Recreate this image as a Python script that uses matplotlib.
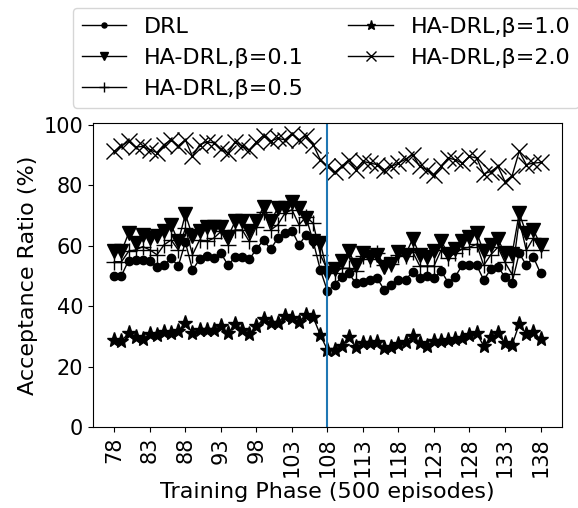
import numpy as np
import matplotlib
matplotlib.use("Agg")
import matplotlib.pyplot as plt

# training phases (x 500 episodes)
phases = list(range(78, 139))

drl = [50.1, 50.1, 55.1, 55.3, 55.3, 54.8, 52.9, 53.6, 55.8, 53.3,
       61.2, 52.0, 55.5, 56.6, 55.8, 57.5, 53.6, 56.2, 56.4, 55.5,
       58.9, 61.9, 58.8, 62.5, 64.3, 65.0, 60.3, 63.6, 61.4, 52.0,
       45.0, 47.0, 49.8, 50.9, 47.6, 48.1, 48.7, 49.2, 45.4, 47.0,
       48.7, 48.7, 51.4, 49.2, 50.0, 49.2, 51.7, 47.8, 49.8, 53.6,
       53.6, 53.6, 48.7, 52.2, 53.1, 49.6, 47.8, 57.5, 53.6, 56.2,
       50.9]

ha_01 = [58.1, 58.1, 64.1, 60.8, 63.6, 62.5, 63.2, 65.0, 66.9, 61.4,
         70.4, 63.2, 64.7, 66.3, 66.1, 66.1, 63.0, 68.0, 68.0, 65.0,
         68.0, 72.9, 68.0, 72.4, 72.4, 74.6, 72.4, 69.3, 61.4, 61.0,
         51.0, 52.2, 54.9, 58.1, 53.6, 57.5, 56.1, 56.8, 52.8, 53.9,
         57.9, 57.0, 62.3, 57.0, 56.3, 58.1, 61.6, 57.3, 58.8, 61.4,
         63.0, 64.3, 58.1, 60.3, 62.1, 57.5, 57.3, 70.7, 64.1, 65.2,
         60.3]

ha_05 = [54.7, 54.7, 58.1, 58.6, 59.7, 58.6, 57.0, 60.3, 61.9, 58.6,
         65.8, 57.0, 61.9, 61.4, 62.5, 64.7, 60.3, 65.2, 65.2, 61.4,
         66.3, 71.3, 65.2, 66.9, 70.7, 71.9, 66.9, 69.6, 67.4, 57.0,
         52.0, 51.0, 52.5, 52.5, 51.8, 56.5, 55.5, 57.5, 53.5, 54.0,
         57.0, 56.5, 58.0, 53.3, 53.3, 53.3, 58.5, 56.0, 57.5, 59.0,
         59.5, 60.5, 53.5, 57.0, 59.5, 54.5, 50.5, 68.5, 58.5, 62.5,
         58.5]

ha_10 = [28.8, 28.4, 31.2, 29.9, 29.0, 30.8, 30.5, 31.6, 31.0, 31.9,
         34.3, 31.2, 32.3, 32.1, 32.1, 33.4, 31.0, 34.1, 32.3, 30.8,
         33.4, 35.7, 34.5, 34.5, 36.8, 36.0, 34.9, 37.1, 36.3, 30.5,
         25.5, 25.5, 26.8, 29.9, 26.4, 27.7, 27.9, 28.1, 26.1, 26.4,
         27.5, 28.3, 30.1, 27.7, 26.8, 28.6, 28.6, 28.8, 29.0, 29.4,
         30.5, 31.2, 26.8, 29.7, 31.0, 27.7, 27.2, 34.1, 30.8, 31.6,
         29.0]

ha_20 = [91.2, 93.0, 94.5, 92.6, 92.8, 91.7, 90.8, 93.4, 95.0, 93.0,
         95.0, 89.5, 93.4, 94.3, 94.0, 92.0, 90.6, 94.3, 93.0, 91.5,
         94.3, 96.4, 94.5, 95.5, 95.0, 97.0, 95.0, 96.4, 93.4, 88.4,
         86.2, 84.2, 86.2, 88.4, 85.1, 87.9, 87.3, 86.8, 85.1, 86.2,
         87.3, 88.6, 90.1, 86.2, 85.1, 83.4, 86.2, 89.0, 88.4, 87.3,
         89.5, 89.0, 83.8, 84.5, 86.2, 81.2, 83.1, 91.2, 86.8, 87.3,
         87.5]

labels = ["DRL", "HA-DRL,β=0.1", "HA-DRL,β=0.5", "HA-DRL,β=1.0", "HA-DRL,β=2.0"]

plt.rcParams['font.size'] = 16

fig = plt.figure(figsize=(5.78, 5.08), dpi=100)
ax = fig.add_axes([0.161, 0.159, 0.811, 0.599])

# plot each series
ax.plot(phases, drl, color='black', lw=1, marker='o', ms=6, label=labels[0])
ax.plot(phases, ha_01, color='black', lw=1, marker='v', ms=10, label=labels[1])
ax.plot(phases, ha_05, color='black', lw=1, marker='+', ms=12, label=labels[2])
ax.plot(phases, ha_10, color='black', lw=1, marker='*', ms=11, label=labels[3])
ax.plot(phases, ha_20, color='black', lw=1, marker='x', ms=11, label=labels[4])

# mark the switch point
ax.axvline(108, color='C0', lw=1.5)

ax.set_ylim(bottom=0)
ax.set_xticks(phases[::5])
ax.tick_params(axis='both', labelsize=15)
ax.tick_params(axis='x', rotation=90)
ax.set_xlabel("Training Phase (500 episodes)")
ax.set_ylabel("Acceptance Ratio (%)")

ax.legend(ncol=2, loc='lower left', bbox_to_anchor=(-0.043, 1.05),
          borderaxespad=0, fontsize=16, markerscale=0.6)

fig.savefig("out.png", dpi=100)
